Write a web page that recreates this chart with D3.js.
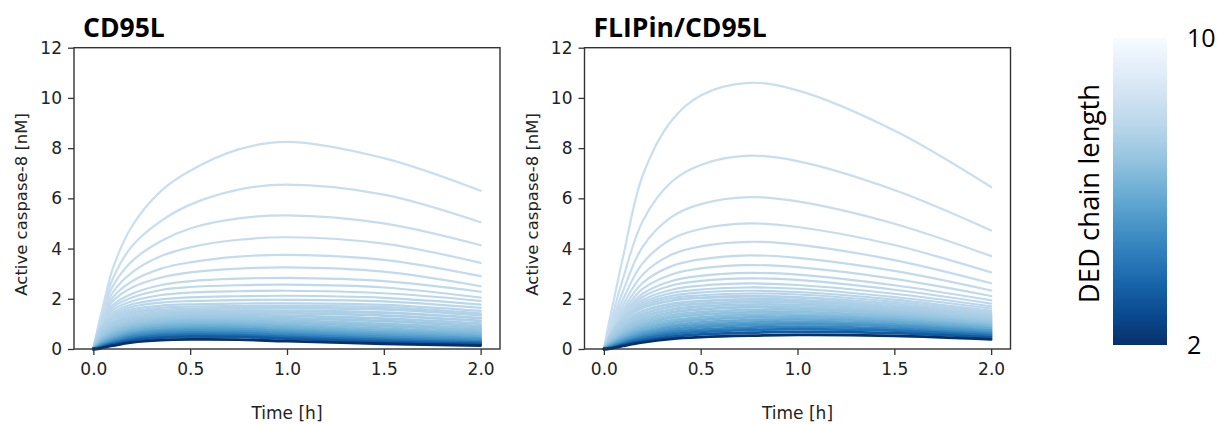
<!DOCTYPE html>
<html>
<head>
<meta charset="utf-8">
<script src="https://cdn.jsdelivr.net/npm/d3@7"></script>
<style>
  body { margin: 0; background: #fff; }
  svg { display: block; }
</style>
</head>
<body>
<div id="chart"></div>
<script>
const timesH = [0, 0.025, 0.05, 0.1, 0.2, 0.35, 0.5, 0.75, 1.0, 1.5, 2.0];

// DED chain length for each curve (same order as the curve rows below)
const chainLen = [8.2, 8.15, 8.1, 8.05, 8.0, 7.95, 7.9, 7.85, 7.8, 7.75, 7.7, 7.65, 7.6,
  7.5, 7.4, 7.3, 7.2, 7.05, 6.9, 6.7, 6.5, 6.2, 5.9, 5.5, 5.1, 4.6, 4.0, 3.3, 2.0];

// active caspase-8 [nM], CD95L panel
const cd95l = [
  [0, 0.9, 1.7, 3.2, 4.9, 6.3, 7.1, 7.95, 8.25, 7.6, 6.3],
  [0, 0.85, 1.6, 2.8, 4.1, 5.1, 5.75, 6.35, 6.55, 6.15, 5.05],
  [0, 0.8, 1.5, 2.5, 3.5, 4.3, 4.8, 5.2, 5.32, 5.0, 4.13],
  [0, 0.78, 1.4, 2.25, 3.05, 3.7, 4.05, 4.35, 4.45, 4.2, 3.43],
  [0, 0.75, 1.3, 2.05, 2.7, 3.2, 3.45, 3.68, 3.75, 3.55, 2.9],
  [0, 0.72, 1.25, 1.9, 2.45, 2.85, 3.05, 3.2, 3.25, 3.08, 2.5],
  [0, 0.7, 1.2, 1.75, 2.2, 2.55, 2.7, 2.8, 2.83, 2.7, 2.28],
  [0, 0.68, 1.15, 1.65, 2.05, 2.35, 2.47, 2.54, 2.56, 2.45, 2.05],
  [0, 0.66, 1.1, 1.55, 1.9, 2.15, 2.25, 2.3, 2.32, 2.22, 1.92],
  [0, 0.64, 1.05, 1.45, 1.78, 1.98, 2.06, 2.1, 2.12, 2.04, 1.77],
  [0, 0.62, 1.0, 1.38, 1.68, 1.85, 1.91, 1.95, 1.96, 1.9, 1.64],
  [0, 0.6, 0.97, 1.32, 1.58, 1.73, 1.78, 1.81, 1.82, 1.76, 1.52],
  [0, 0.58, 0.94, 1.27, 1.5, 1.64, 1.69, 1.71, 1.72, 1.67, 1.42],
  [0, 0.54, 0.88, 1.19, 1.42, 1.55, 1.60, 1.62, 1.63, 1.58, 1.35],
  [0, 0.48, 0.79, 1.08, 1.32, 1.46, 1.51, 1.53, 1.52, 1.45, 1.23],
  [0, 0.42, 0.70, 0.99, 1.23, 1.37, 1.43, 1.44, 1.42, 1.33, 1.12],
  [0, 0.37, 0.63, 0.89, 1.14, 1.29, 1.35, 1.36, 1.32, 1.21, 1.01],
  [0, 0.32, 0.55, 0.81, 1.06, 1.22, 1.27, 1.27, 1.23, 1.11, 0.91],
  [0, 0.28, 0.49, 0.73, 0.98, 1.14, 1.19, 1.19, 1.14, 1.00, 0.82],
  [0, 0.24, 0.42, 0.65, 0.90, 1.06, 1.12, 1.11, 1.05, 0.91, 0.73],
  [0, 0.20, 0.37, 0.58, 0.82, 0.98, 1.04, 1.03, 0.96, 0.81, 0.65],
  [0, 0.16, 0.31, 0.51, 0.75, 0.91, 0.96, 0.95, 0.88, 0.72, 0.57],
  [0, 0.13, 0.26, 0.44, 0.67, 0.83, 0.88, 0.87, 0.79, 0.64, 0.49],
  [0, 0.11, 0.22, 0.38, 0.60, 0.75, 0.80, 0.79, 0.71, 0.56, 0.42],
  [0, 0.08, 0.18, 0.32, 0.53, 0.68, 0.73, 0.71, 0.63, 0.48, 0.36],
  [0, 0.06, 0.14, 0.27, 0.47, 0.60, 0.65, 0.63, 0.56, 0.41, 0.30],
  [0, 0.04, 0.11, 0.22, 0.40, 0.53, 0.57, 0.55, 0.48, 0.35, 0.25],
  [0, 0.02, 0.08, 0.18, 0.34, 0.45, 0.49, 0.48, 0.41, 0.28, 0.20],
  [0, 0.01, 0.05, 0.13, 0.26, 0.35, 0.38, 0.37, 0.31, 0.21, 0.14]
];

// active caspase-8 [nM], FLIPin/CD95L panel
const flipin = [
  [0, 1.0, 1.9, 3.7, 6.9, 9.1, 10.1, 10.6, 10.3, 8.7, 6.45],
  [0, 0.79, 1.49, 2.83, 5.09, 6.66, 7.33, 7.7, 7.48, 6.33, 4.72],
  [0, 0.68, 1.26, 2.32, 4.07, 5.26, 5.77, 6.05, 5.88, 4.99, 3.70],
  [0, 0.60, 1.11, 2.0, 3.41, 4.38, 4.78, 5.0, 4.86, 4.14, 3.05],
  [0, 0.55, 1.01, 1.78, 2.96, 3.76, 4.09, 4.27, 4.16, 3.54, 2.62],
  [0, 0.51, 0.94, 1.62, 2.63, 3.30, 3.57, 3.73, 3.63, 3.11, 2.33],
  [0, 0.49, 0.89, 1.50, 2.39, 2.97, 3.21, 3.34, 3.26, 2.79, 2.11],
  [0, 0.47, 0.85, 1.41, 2.20, 2.71, 2.91, 3.03, 2.96, 2.54, 1.94],
  [0, 0.46, 0.82, 1.36, 2.07, 2.53, 2.71, 2.81, 2.75, 2.36, 1.81],
  [0, 0.45, 0.80, 1.31, 1.95, 2.36, 2.52, 2.61, 2.55, 2.20, 1.70],
  [0, 0.45, 0.79, 1.27, 1.86, 2.23, 2.37, 2.45, 2.40, 2.07, 1.61],
  [0, 0.44, 0.78, 1.24, 1.78, 2.12, 2.25, 2.32, 2.27, 1.97, 1.52],
  [0, 0.44, 0.77, 1.22, 1.72, 2.03, 2.14, 2.21, 2.17, 1.88, 1.46],
  [0, 0.42, 0.74, 1.16, 1.64, 1.93, 2.04, 2.10, 2.06, 1.79, 1.39],
  [0, 0.37, 0.66, 1.05, 1.51, 1.80, 1.91, 1.98, 1.95, 1.70, 1.32],
  [0, 0.33, 0.59, 0.95, 1.39, 1.69, 1.80, 1.88, 1.86, 1.63, 1.25],
  [0, 0.29, 0.53, 0.86, 1.28, 1.57, 1.69, 1.77, 1.76, 1.55, 1.19],
  [0, 0.26, 0.46, 0.78, 1.17, 1.46, 1.58, 1.67, 1.66, 1.47, 1.12],
  [0, 0.22, 0.41, 0.69, 1.07, 1.35, 1.47, 1.56, 1.57, 1.39, 1.06],
  [0, 0.19, 0.35, 0.62, 0.97, 1.25, 1.37, 1.46, 1.47, 1.31, 1.00],
  [0, 0.16, 0.30, 0.54, 0.88, 1.14, 1.26, 1.36, 1.37, 1.23, 0.93],
  [0, 0.13, 0.26, 0.48, 0.79, 1.04, 1.16, 1.26, 1.28, 1.15, 0.87],
  [0, 0.11, 0.22, 0.41, 0.70, 0.94, 1.06, 1.15, 1.18, 1.07, 0.80],
  [0, 0.09, 0.18, 0.35, 0.62, 0.85, 0.96, 1.05, 1.08, 0.98, 0.73],
  [0, 0.07, 0.14, 0.30, 0.54, 0.76, 0.87, 0.95, 0.99, 0.90, 0.67],
  [0, 0.05, 0.11, 0.25, 0.47, 0.67, 0.77, 0.85, 0.89, 0.81, 0.60],
  [0, 0.03, 0.08, 0.20, 0.40, 0.58, 0.68, 0.76, 0.79, 0.73, 0.53],
  [0, 0.02, 0.06, 0.16, 0.33, 0.49, 0.58, 0.65, 0.68, 0.63, 0.46],
  [0, 0.01, 0.04, 0.12, 0.26, 0.40, 0.47, 0.53, 0.56, 0.52, 0.38]
];

const panelTitles = ['CD95L', 'FLIPin/CD95L'];
const xTicks = [0, 0.5, 1.0, 1.5, 2.0];
const yTicks = [0, 2, 4, 6, 8, 10, 12];
const barTicks = [2, 10];

const width = 1220, height = 424;

const svg = d3.select('#chart')
  .append('svg')
  .attr('width', width)
  .attr('height', height);

const color = d3.scaleSequential(d3.interpolateBlues).domain([10, 2]);

const y = d3.scaleLinear().domain([0, 12]).range([349, 47.7]);

const drawPanel = (left, rows, title) => {
  const x = d3.scaleLinear().domain([-0.1, 2.1]).range([left, left + 426]);
  const g = svg.append('g');

  const line = d3.line()
    .x((d, i) => x(timesH[i]))
    .y(d => y(d))
    .curve(d3.curveCatmullRom.alpha(0.5));

  g.append('g')
    .selectAll('path')
    .data(rows)
    .join('path')
    .attr('d', line)
    .attr('fill', 'none')
    .attr('stroke', (d, i) => color(chainLen[i]))
    .attr('stroke-width', (d, i) => i < 13 ? 2.2 : 2.8)
    .attr('stroke-linecap', 'round');

  const xAxis = g.append('g')
    .attr('transform', `translate(0,${y(0)})`)
    .call(d3.axisBottom(x).tickValues(xTicks).tickFormat(d3.format('.1f')).tickSize(6).tickPadding(8));
  const yAxis = g.append('g')
    .attr('transform', `translate(${left},0)`)
    .call(d3.axisLeft(y).tickValues(yTicks).tickSize(6).tickPadding(6));

  [xAxis, yAxis].forEach(a => {
    a.select('.domain').remove();
    a.selectAll('line').attr('stroke', '#333').attr('stroke-width', 1.3);
    a.selectAll('text')
      .attr('fill', '#222')
      .style('font-family', 'DejaVu Sans, sans-serif')
      .style('font-size', '17px');
  });

  // frame
  g.append('rect')
    .attr('x', left)
    .attr('y', y(12))
    .attr('width', 426)
    .attr('height', y(0) - y(12))
    .attr('fill', 'none')
    .attr('stroke', '#333')
    .attr('stroke-width', 1.4);

  g.append('text')
    .attr('x', x(1.0))
    .attr('y', 419)
    .attr('text-anchor', 'middle')
    .style('font-family', 'DejaVu Sans, sans-serif')
    .style('font-size', '17px')
    .attr('fill', '#222')
    .text('Time [h]');

  g.append('text')
    .attr('transform', `translate(${left - 47},${(y(0) + y(12)) / 2 + 6}) rotate(-90)`)
    .attr('text-anchor', 'middle')
    .style('font-family', 'DejaVu Sans, sans-serif')
    .style('font-size', '16.5px')
    .attr('fill', '#222')
    .text('Active caspase-8 [nM]');

  g.append('text')
    .attr('x', left + 9)
    .attr('y', 37)
    .style('font-family', 'Open Sans, sans-serif')
    .style('font-weight', 700)
    .style('font-size', '26.5px')
    .attr('fill', '#000')
    .text(title);
};

drawPanel(74, cd95l, panelTitles[0]);
drawPanel(584.5, flipin, panelTitles[1]);

// colorbar
const defs = svg.append('defs');
const grad = defs.append('linearGradient')
  .attr('id', 'blues')
  .attr('x1', 0).attr('y1', 1).attr('x2', 0).attr('y2', 0);
d3.range(0, 1.0001, 0.1).forEach(t => {
  grad.append('stop')
    .attr('offset', t)
    .attr('stop-color', color(2 + t * 8));
});

const barY = d3.scaleLinear().domain([2, 10]).range([345, 38]);
svg.append('rect')
  .attr('x', 1113)
  .attr('y', barY(10))
  .attr('width', 54)
  .attr('height', barY(2) - barY(10))
  .attr('fill', 'url(#blues)');

svg.append('g')
  .selectAll('text')
  .data(barTicks)
  .join('text')
  .attr('x', 1187)
  .attr('y', d => barY(d) + 9)
  .style('font-family', 'Open Sans, sans-serif')
  .style('font-size', '25px')
  .attr('fill', '#000')
  .text(d => d);

svg.append('text')
  .attr('transform', `translate(1099,${(barY(2) + barY(10)) / 2 + 2}) rotate(-90)`)
  .attr('text-anchor', 'middle')
  .style('font-family', 'Open Sans, sans-serif')
  .style('font-size', '27.5px')
  .attr('fill', '#000')
  .text('DED chain length');
</script>
</body>
</html>
